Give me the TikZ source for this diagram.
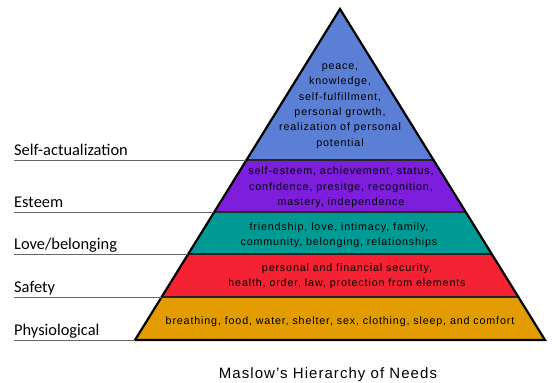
\documentclass[tikz,border=0pt]{standalone}
\usepackage{fontspec}
\setmainfont{Liberation Sans}
\newfontfamily\levelfont{Carlito}
\newfontfamily\needsfont[LetterSpace=8]{Liberation Sans}
\newfontfamily\titlefont[LetterSpace=7]{Liberation Sans}
\usetikzlibrary{calc}
\definecolor{selfblue}{HTML}{5B7FD5}
\definecolor{esteempurple}{HTML}{7D1EDD}
\definecolor{loveteal}{HTML}{009A95}
\definecolor{safetyred}{HTML}{F42233}
\definecolor{physorange}{HTML}{E39C00}

\begin{document}
\begin{tikzpicture}[x=1pt,y=-1pt,
  needs/.style={font=\needsfont\fontsize{10.7}{15.4}\selectfont,align=center,inner sep=0pt},
  level/.style={font=\levelfont\fontsize{16.4}{17}\selectfont,anchor=base west,inner sep=0pt},
  tick/.style={draw=gray!80!black,line width=1pt}]
  \useasboundingbox (0,0) rectangle (552,383);
  \coordinate (top) at (340,9);
  \coordinate (bl) at (135,340);
  \coordinate (br) at (545,340);
  \coordinate (m) at (14,0);
  % band edges
  \foreach \t/\n in {0.4562/a,0.6133/b,0.7402/c,0.8701/d}{
    \coordinate (l\n) at ($(top)!\t!(bl)$);
    \coordinate (r\n) at ($(top)!\t!(br)$);
  }
  \fill[selfblue] (top) -- (ra) -- (la) -- cycle;
  \fill[esteempurple] (la) -- (ra) -- (rb) -- (lb) -- cycle;
  \fill[loveteal] (lb) -- (rb) -- (rc) -- (lc) -- cycle;
  \fill[safetyred] (lc) -- (rc) -- (rd) -- (ld) -- cycle;
  \fill[physorange] (ld) -- (rd) -- (br) -- (bl) -- cycle;
  \foreach \n in {a,b,c,d} \draw[line width=1.3pt,black!85] (l\n) -- (r\n);
  \draw[line width=2.2pt] (top) -- (br) -- (bl) -- cycle;
  % left lines and labels
  \foreach \n in {la,lb,lc,ld,bl} \draw[tick] (\n -| m) -- (\n);
  \node[level] (selfact) at ($(la -| m)+(0,-5)$) {Self-actualization};
  \node[level] (esteem) at ($(lb -| m)+(0,-5)$) {Esteem};
  \node[level] (love) at ($(lc -| m)+(0,-5)$) {Love/belonging};
  \node[level] (safety) at ($(ld -| m)+(0,-5)$) {Safety};
  \node[level] (phys) at ($(bl -| m)+(0,-5)$) {Physiological};
  % needs in each band
  \node[needs] (selftxt) at (340,106) {peace,\\knowledge,\\self-fulfillment,\\personal growth,\\realization of personal\\potential};
  \node[needs] (esteemtxt) at (341,187.5) {self-esteem, achievement, status,\\confidence, presitge, recognition,\\mastery, independence};
  \node[needs] (lovetxt) at (339,235) {friendship, love, intimacy, family,\\community, belonging, relationships};
  \node[needs] (safetytxt) at (347,276) {personal and financial security,\\health, order, law, protection from elements};
  \node[needs] (phystxt) at (340,321.5) {breathing, food, water, shelter, sex, clothing, sleep, and comfort};
  \node[font=\titlefont\fontsize{15}{15}\selectfont,anchor=base,inner sep=0pt] (title) at (328,378) {Maslow’s Hierarchy of Needs};
\end{tikzpicture}
\end{document}
